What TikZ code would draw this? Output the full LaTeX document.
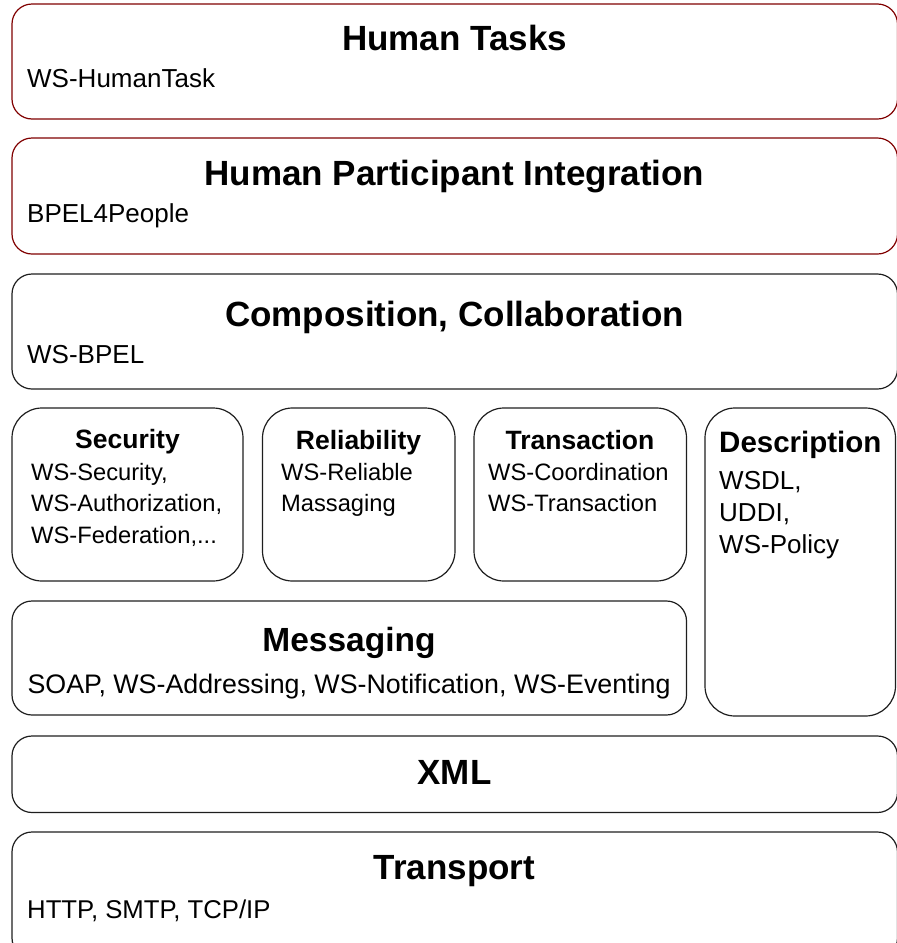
\documentclass[tikz,border=0pt]{standalone}
\usepackage{fontspec}
\setmainfont{Liberation Sans}
\definecolor{boxred}{RGB}{128,0,0}
\definecolor{boxgray}{RGB}{30,30,30}
\begin{document}
\begin{tikzpicture}[x=1pt,y=-1pt,
  layer/.style={draw=boxgray, line width=1.2pt, rectangle, rounded corners=20pt,
    inner sep=0pt, outer sep=0pt, anchor=north west},
  redlayer/.style={layer, draw=boxred},
  small/.style={layer, rounded corners=30pt},
  bigtitle/.style={inner sep=0pt, anchor=base, font=\fontsize{35}{40}\bfseries\selectfont},
  smalltitle/.style={inner sep=0pt, anchor=base, font=\fontsize{26.5}{30}\bfseries\selectfont},
  body/.style={inner sep=0pt, anchor=base west, font=\fontsize{26}{30}\selectfont},
  smallbody/.style={inner sep=0pt, anchor=base west, font=\fontsize{23.7}{28}\selectfont}]
\useasboundingbox (0,0) rectangle (897,943);
\clip (0,0) rectangle (897,943);
% layer boxes
\node[redlayer, minimum width=885.5pt, minimum height=115pt] (ht) at (12,4) {};
\node[redlayer, minimum width=885.5pt, minimum height=116pt] (hpi) at (12,138) {};
\node[layer, minimum width=885.5pt, minimum height=115pt] (comp) at (12,274) {};
\node[small, minimum width=231pt, minimum height=173pt] (sec) at (12,408) {};
\node[small, minimum width=192.5pt, minimum height=173pt] (rel) at (262.5,408) {};
\node[small, minimum width=212.5pt, minimum height=173pt] (tra) at (474,408) {};
\node[small, minimum width=190.5pt, minimum height=308pt] (desc) at (705,408) {};
\node[layer, minimum width=674.5pt, minimum height=114pt] (msg) at (12,601) {};
\node[layer, minimum width=885.5pt, minimum height=76.5pt] (xml) at (12,736) {};
\node[layer, minimum width=885.5pt, minimum height=126pt] (trans) at (12,832) {};
% texts
\node[bigtitle] (htT) at (454.5,50) {Human Tasks};
\node[body] (htB) at (27,87) {WS-HumanTask};
\node[bigtitle] (hpiT) at (454.5,185) {Human Participant Integration};
\node[body] (hpiB) at (27,222) {BPEL4People};
\node[bigtitle] (compT) at (454.5,326) {Composition, Collaboration};
\node[body] (compB) at (27,363) {WS-BPEL};
\node[smalltitle] (secT) at (127.5,448) {Security};
\node[smallbody] (secB1) at (31,480) {WS-Security,};
\node[smallbody] (secB2) at (31,511.5) {WS-Authorization,};
\node[smallbody] (secB3) at (31,543) {WS-Federation,...};
\node[smalltitle] (relT) at (358.5,449) {Reliability};
\node[smallbody] (relB1) at (281,480) {WS-Reliable};
\node[smallbody] (relB2) at (281,511) {Massaging};
\node[smalltitle] (traT) at (580,449) {Transaction};
\node[smallbody] (traB1) at (488,480) {WS-Coordination};
\node[smallbody] (traB2) at (488,511) {WS-Transaction};
\node[inner sep=0pt, anchor=base west, font=\fontsize{29.5}{34}\bfseries\selectfont] (descT) at (719,452) {Description};
\node[body] (descB1) at (719,489) {WSDL,};
\node[body] (descB2) at (719,521) {UDDI,};
\node[body] (descB3) at (719,553) {WS-Policy};
\node[inner sep=0pt, anchor=base, font=\fontsize{33.5}{38}\bfseries\selectfont] (msgT) at (349,651) {Messaging};
\node[inner sep=0pt, anchor=base, font=\fontsize{26.8}{30}\selectfont] (msgB) at (349,693) {SOAP, WS-Addressing, WS-Notification, WS-Eventing};
\node[bigtitle] (xmlT) at (454.5,784) {XML};
\node[bigtitle] (transT) at (454.5,879) {Transport};
\node[inner sep=0pt, anchor=base west, font=\fontsize{25.7}{30}\selectfont] (transB) at (27,918) {HTTP, SMTP, TCP/IP};
\end{tikzpicture}
\end{document}
